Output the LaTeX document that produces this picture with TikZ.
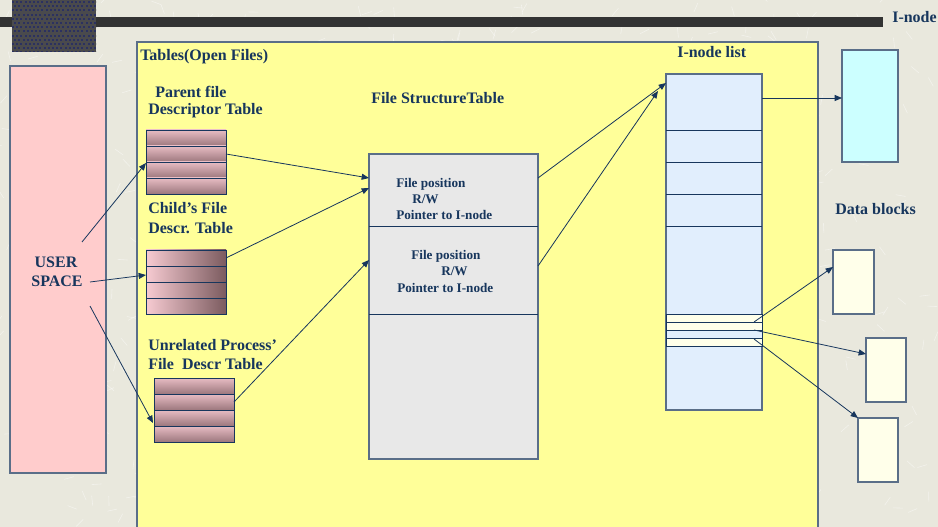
\documentclass[tikz,border=0pt]{standalone}
\usepackage{fontspec}
\setmainfont{Liberation Serif}
\usetikzlibrary{arrows.meta,calc,fit}

\definecolor{bg}{HTML}{E9E8DD}
\definecolor{ink}{HTML}{17365D}
\definecolor{edge}{HTML}{5A6E88}
\definecolor{panel}{HTML}{FFFF99}
\definecolor{pinkfill}{HTML}{FFCCCC}
\definecolor{fsfill}{HTML}{E8E8E8}
\definecolor{inodefill}{HTML}{E1EEFD}
\definecolor{cyanfill}{HTML}{CCFFFF}
\definecolor{creamfill}{HTML}{FFFFEA}
\definecolor{barcol}{HTML}{333333}
\definecolor{tile}{HTML}{4A4A4C}
\definecolor{dotcol}{HTML}{2B3160}
\definecolor{rowtop}{HTML}{F7CBD2}
\definecolor{rowbot}{HTML}{8C686E}
\definecolor{rowdark}{HTML}{7B5B5F}

% one descriptor table: name, left x, top y, shading options
\newcommand\desctab[4]{%
  \foreach \r in {0,...,3}{
    \shade[#4] (#2,{#3+16*\r}) rectangle ({#2+80},{#3+16*\r+16});
    \draw[rowline] (#2,{#3+16*\r}) rectangle ({#2+80},{#3+16*\r+16});
  }
  \node[frame,fit={(#2,#3) ({#2+80},{#3+64})}] (#1) {};
}

\begin{document}
\begin{tikzpicture}[x=0.75pt,y=-0.75pt,
  box/.style={draw=edge,line width=0.9pt,inner sep=0pt,outer sep=0pt},
  frame/.style={draw=ink,line width=0.7pt,inner sep=0pt,outer sep=0pt},
  lbl/.style={text=ink,font=\bfseries\fontsize{12}{14}\selectfont,inner sep=0pt,anchor=west},
  small/.style={text=ink,font=\bfseries\fontsize{9.9}{12}\selectfont,inner sep=0pt,anchor=west},
  conn/.style={draw=ink,line width=0.6pt,-{Triangle[length=5.5pt,width=4.5pt]}},
  rowline/.style={draw=ink,line width=0.6pt},
  ptable/.style={top color=rowtop!85!rowbot,middle color=rowtop,bottom color=rowbot!85!rowtop},
  ctable/.style={left color=rowtop,right color=rowdark},
]
\useasboundingbox (0,0) rectangle (938,527);

% textured backdrop
\fill[bg] (0,0) rectangle (938,527);
\pgfmathsetseed{3}
\foreach \k in {1,...,700}{
  \pgfmathsetmacro\xx{rnd*938}
  \pgfmathsetmacro\yy{rnd*527}
  \pgfmathsetmacro\aa{rnd*360}
  \draw[white,opacity=0.45,line width=0.45pt] (\xx,\yy) -- ++(\aa:10);
}

% header bar and dotted tile
\fill[barcol] (0,17) rectangle (883,27);
\begin{scope}
  \clip (12,0) rectangle (96,52);
  \fill[tile] (12,0) rectangle (96,52);
  \foreach \i in {0,...,20}{
    \foreach \j in {0,...,12}{
      \fill[dotcol] ({12+4.2*\i+2.1*mod(\j,2)},{1+4.2*\j}) rectangle ++(2,2);
    }
  }
\end{scope}
\node[lbl] (inodeT) at (892,17) {I-node};

% open-file tables panel
\node[box,fill=panel,fit={(137,42) (818,532)}] (tables) {};
\node[lbl] (tablesT) at (140,57) {Tables(Open Files)};

% user space
\node[box,fill=pinkfill,fit={(10,66) (106,473)}] (user) {};
\node[lbl,anchor=center] (userT1) at (56,262) {USER};
\node[lbl,anchor=center] (userT2) at (57,281) {SPACE};

% per-process descriptor tables
\node[lbl] (parentT1) at (155,92) {Parent file};
\node[lbl] (parentT2) at (148,111) {Descriptor Table};
\desctab{parent}{146}{130}{ptable}
\node[lbl] (childT1) at (148,208) {Child’s File};
\node[lbl] (childT2) at (148,228) {Descr. Table};
\desctab{child}{146}{250}{ctable}
\node[lbl] (unrT1) at (148,345) {Unrelated Process’};
\node[lbl] (unrT2) at (148,364) {File\ \ Descr Table};
\desctab{unrel}{154}{378}{ptable}

% file structure table
\node[lbl] (fsT) at (371,98) {File StructureTable};
\node[box,fill=fsfill,fit={(369,154) (538,459)}] (fst) {};
\draw[rowline] (369,226) -- (538,226);
\draw[rowline] (369,314) -- (538,314);
\node[small] (fs1a) at (396,184) {File position};
\node[small] (fs1b) at (412,199) {R/W};
\node[small] (fs1c) at (396,215) {Pointer to I-node};
\node[small] (fs2a) at (411,256) {File position};
\node[small] (fs2b) at (441,271) {R/W};
\node[small] (fs2c) at (397,288) {Pointer to I-node};

% i-node list
\node[lbl] (ilT) at (677,52) {I-node list};
\node[box,fill=inodefill,fit={(666,74) (762,410)}] (inode) {};
\foreach \yy in {130,162,194,226}{
  \draw[rowline] (666,\yy) -- (762,\yy);
}
\node[frame,fill=creamfill,fit={(666,314) (762,322)}] (s1) {};
\node[frame,fill=creamfill,fit={(666,322) (762,330)}] (s2) {};
\node[frame,fill=inodefill,fit={(666,330) (762,338)}] (s3) {};
\node[frame,fill=creamfill,fit={(666,338) (762,346)}] (s4) {};

% i-node and data blocks
\node[box,fill=cyanfill,fit={(842,50) (898,162)}] (ibox) {};
\node[lbl] (dataT) at (835,209) {Data blocks};
\node[box,fill=creamfill,fit={(833,250) (874,314)}] (db1) {};
\node[box,fill=creamfill,fit={(866,338) (906,402)}] (db2) {};
\node[box,fill=creamfill,fit={(858,418) (898,482)}] (db3) {};

% connectors
\coordinate (u1) at (82,242);
\coordinate (u2) at (90,282);
\coordinate (u3) at (90,306);
\draw[conn] (u1) -- ($(parent.north west)+(0,33)$);
\draw[conn] (u2) -- ($(child.north west)+(0,25)$);
\draw[conn] (u3) -- ($(unrel.north west)+(-1,45)$);

\draw[conn] ($(parent.north east)+(0,24)$) -- ($(fst.north west)+(0,24)$);
\draw[conn] ($(child.north east)+(0,8)$) -- ($(fst.north west)+(0,34)$);
\draw[conn] ($(unrel.north east)+(0,24)$) -- ($(fst.north west)+(0,106)$);

\draw[conn] ($(fst.north east)+(0,24)$) -- ($(inode.north west)+(0,9)$);
\draw[conn] ($(fst.north east)+(0,112)$) -- ($(inode.north west)+(-8,17)$);

\draw[conn] ($(inode.north east)+(0,24)$) -- ($(ibox.north west)+(0,48)$);

\draw[conn] ($(s1.south east)+(-8,0)$) -- ($(db1.north west)+(0,17)$);
\draw[conn] ($(s2.south east)+(-8,0)$) -- ($(db2.north west)+(0,16)$);
\draw[conn] ($(s3.south east)+(-8,1)$) -- (db3.north west);

\end{tikzpicture}
\end{document}
